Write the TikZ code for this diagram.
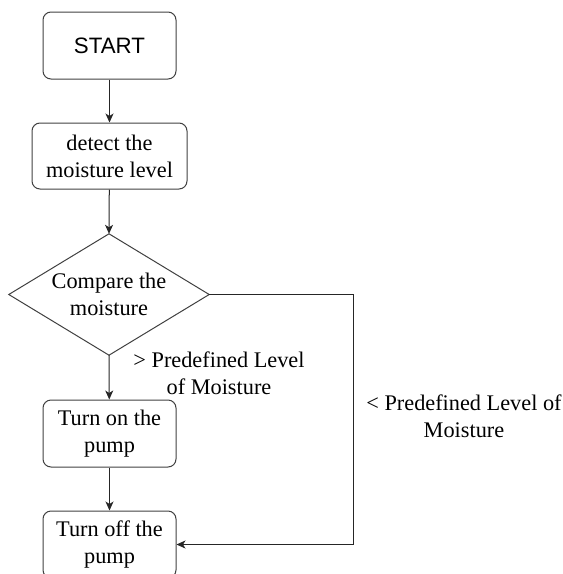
\documentclass[tikz,border=0pt]{standalone}
\usepackage{fontspec}
\setmainfont{Liberation Serif}
\newfontfamily\arialfont{Liberation Sans}
\usetikzlibrary{arrows.meta}
\tikzset{
  txt/.style={font=\fontsize{22.3}{27}\selectfont},
  box/.style={draw=black!75, line width=1pt, rounded corners=8pt, rectangle, inner sep=0pt,
    minimum width=133pt, minimum height=67pt, align=center, txt},
  decision/.style={rectangle, inner sep=0pt,
    minimum width=200pt, minimum height=121pt, align=center, txt},
  diamondline/.style={draw=black!75, line width=1pt},
  lbl/.style={align=center, inner sep=0pt, txt},
  conn/.style={draw=black!85, line width=1pt, -{Stealth[length=9pt,width=8pt,inset=2.5pt]}}
}
\begin{document}
\begin{tikzpicture}[x=1pt,y=-1pt]
\useasboundingbox (0,0) rectangle (563,574);
\node[box] (start) at (109.5,45.5) {\arialfont START};
\node[box, minimum width=155pt, minimum height=66pt] (detect) at (109.5,156) {detect the\\moisture level};
\node[decision] (cmp) at (109,294.5) {Compare the\\moisture};
\draw[diamondline] (cmp.north) -- (cmp.east) -- (cmp.south) -- (cmp.west) -- cycle;
\node[box] (on) at (109.5,433.5) {Turn on the\\pump};
\node[box] (off) at (109.5,544.5) {Turn off the\\pump};
\coordinate (corner) at (353,294.5);
\node[lbl] (gt) at (219,373) {> Predefined Level\\of Moisture};
\node[lbl] (lt) at (464,416.5) {< Predefined Level of\\Moisture};
\draw[conn] (start) -- (detect);
\draw[conn] (detect) -- (cmp.north);
\draw[conn] (cmp.south) -- (on);
\draw[conn] (on) -- (off);
\draw[conn] (cmp.east) -- (corner) |- (off.east);
\end{tikzpicture}
\end{document}
